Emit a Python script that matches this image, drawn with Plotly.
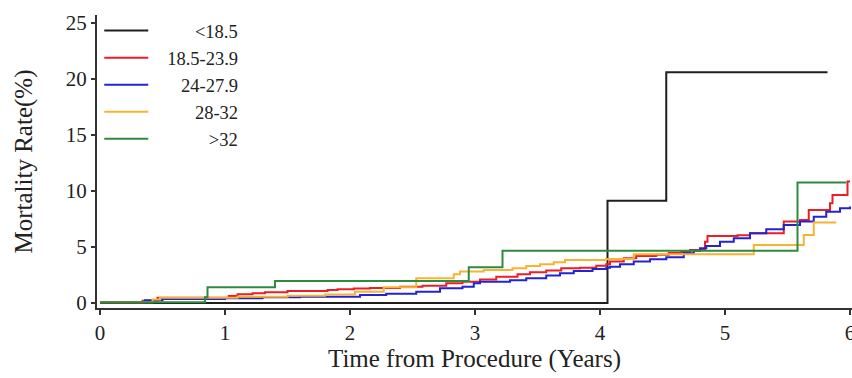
import plotly.graph_objects as go

# ---- data ----
series_names = ["<18.5", "18.5-23.9", "24-27.9", "28-32", ">32"]

t_black = [0, 4.06, 4.53, 5.82]
v_black = [0, 9.13, 20.6, 20.6]

t_red = [0, 0.34, 0.46, 1.03, 1.10, 1.22, 1.32, 1.50, 1.82, 1.90, 2.03, 2.16, 2.40, 2.58, 2.77,
         2.90, 3.04, 3.17, 3.34, 3.44, 3.57, 3.69, 3.84, 3.97, 4.05, 4.08, 4.19, 4.29, 4.45, 4.55,
         4.65, 4.72, 4.84, 4.86, 5.10, 5.20, 5.47, 5.60, 5.67, 5.84, 5.86, 5.98, 6.0]
v_red = [0.06, 0.2, 0.47, 0.62, 0.78, 0.87, 0.95, 1.07, 1.16, 1.22, 1.30, 1.34, 1.44, 1.53, 1.76,
         1.90, 2.10, 2.35, 2.56, 2.74, 2.89, 3.10, 3.15, 3.33, 3.45, 3.70, 3.99, 4.20, 4.30, 4.45,
         4.55, 4.73, 5.47, 5.98, 6.05, 6.22, 7.26, 7.40, 8.30, 8.90, 9.64, 10.83, 10.83]

t_blue = [0, 0.36, 0.50, 1.00, 1.30, 1.60, 2.08, 2.29, 2.53, 2.72, 2.90, 2.99, 3.04, 3.28, 3.41,
          3.57, 3.68, 3.79, 3.94, 4.05, 4.08, 4.16, 4.27, 4.40, 4.53, 4.67, 4.75, 4.80, 4.85, 4.96,
          5.07, 5.20, 5.33, 5.47, 5.60, 5.71, 5.81, 5.92, 6.0]
v_blue = [0.06, 0.25, 0.35, 0.42, 0.50, 0.56, 0.71, 0.83, 1.00, 1.31, 1.45, 1.76, 1.90, 2.02, 2.20,
          2.44, 2.65, 2.86, 3.04, 3.15, 3.24, 3.45, 3.69, 3.90, 4.08, 4.43, 4.67, 4.88, 5.09, 5.47,
          5.77, 6.22, 6.58, 6.96, 7.26, 7.70, 8.15, 8.45, 8.60]

t_orange = [0, 0.42, 0.48, 1.10, 1.50, 1.80, 2.04, 2.27, 2.53, 2.83, 2.88, 3.07, 3.30, 3.41, 3.52,
            3.63, 3.72, 4.05, 4.27, 5.23, 5.63, 5.71, 5.89]
v_orange = [0.06, 0.30, 0.47, 0.55, 0.65, 0.75, 1.00, 1.40, 2.20, 2.56, 2.80, 2.95, 3.10, 3.30, 3.45,
            3.63, 3.84, 3.93, 4.35, 5.18, 6.07, 7.17, 7.17]

t_green = [0, 0.84, 0.86, 1.40, 2.95, 3.22, 5.58, 5.97]
v_green = [0.06, 0.5, 1.40, 1.96, 3.19, 4.67, 10.74, 10.74]

x_ticks = [0, 1, 2, 3, 4, 5, 6]
y_ticks = [0, 5, 10, 15, 20, 25]

colors = ["#1e1e1e", "#ee1d25", "#2323d4", "#f6b432", "#2e8a3e"]
# legend labels padded with figure/punctuation spaces so they read right-aligned
FS, PS = "\u2007", "\u2008"
lead = FS + PS
legend_labels = [lead + FS * 3 + "<18.5", lead + "18.5-23.9", lead + FS + PS + "24-27.9",
                 lead + FS * 3 + "28-32", lead + FS * 4 + PS + ">32"]

data = [(t_black, v_black), (t_red, v_red), (t_blue, v_blue), (t_orange, v_orange), (t_green, v_green)]

font_family = "Liberation Serif, Times New Roman, serif"

fig = go.Figure()
for (t, v), name, lab, col in zip(data, series_names, legend_labels, colors):
    fig.add_trace(go.Scatter(x=t, y=v, mode="lines", name=lab, line=dict(color=col, width=2, shape="hv"),
                             hoverinfo="skip"))

fig.update_layout(
    width=852, height=378,
    margin=dict(l=97, r=0, t=15, b=70, autoexpand=False),
    paper_bgcolor="white", plot_bgcolor="white",
    font=dict(family=font_family, size=21, color="#222"),
    showlegend=True,
    legend=dict(x=0.003, y=1.01, xanchor="left", yanchor="top", bgcolor="rgba(0,0,0,0)",
                font=dict(size=18.5, family=font_family, color="#222"), itemwidth=44,
                tracegroupgap=0),
)
fig.update_xaxes(range=[-0.024, 6.016], tickvals=x_ticks, ticktext=[str(v) for v in x_ticks],
                 automargin=False, ticklabeloverflow="allow",
                 showgrid=False, zeroline=False, showline=True, linecolor="#333", linewidth=2,
                 ticks="outside", ticklen=5, tickwidth=1.5, tickcolor="#333",
                 title=dict(text="Time from Procedure (Years)", standoff=0))
fig.update_yaxes(range=[-0.45, 25.7], tickvals=y_ticks, ticktext=[str(v) for v in y_ticks],
                 automargin=False,
                 showgrid=False, zeroline=False, showline=True, linecolor="#333", linewidth=2,
                 ticks="outside", ticklen=4, tickwidth=1.5, tickcolor="#333",
                 title=dict(text="Mortality Rate(%)", standoff=26))

fig.write_html("out.html", config={"displayModeBar": False},
               post_script="document.body.style.margin='0';")
